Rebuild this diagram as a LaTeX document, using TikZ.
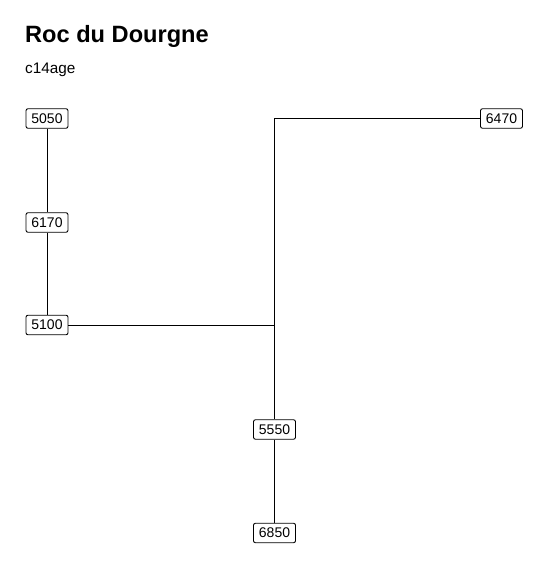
\documentclass[tikz,border=0pt]{standalone}
\usepackage{fontspec}
\setmainfont{Liberation Sans}
\begin{document}
\begin{tikzpicture}[x=1bp,y=-1bp,
  datebox/.style={draw=black, fill=white, line width=0.9bp, rounded corners=2bp,
    minimum width=42bp, minimum height=19.5bp, inner sep=0pt,
    font=\fontsize{14bp}{16bp}\selectfont},
  link/.style={draw=black, line width=0.9bp}]
\useasboundingbox (0,0) rectangle (547,568);
\node[anchor=base west, inner sep=0pt, font=\fontsize{23.6bp}{26bp}\selectfont\bfseries] (title) at (25,42.7) {Roc du Dourgne};
\node[anchor=base west, inner sep=0pt, font=\fontsize{15.3bp}{18bp}\selectfont] (sub) at (25,74) {c14age};
\coordinate (top) at (274.5,118.5);
\coordinate (junc) at (274.5,325);
\node[datebox] (n5050) at (47,118.5) {5050};
\node[datebox] (n6170) at (47,222.5) {6170};
\node[datebox] (n5100) at (47,325) {5100};
\node[datebox] (n6470) at (501.5,118.5) {6470};
\node[datebox] (n5550) at (274.5,429.5) {5550};
\node[datebox] (n6850) at (274.5,533) {6850};
\draw[link] (n5050.south) -- (n6170.north);
\draw[link] (n6170.south) -- (n5100.north);
\draw[link] (n5100.east) -- (junc);
\draw[link] (n6470.west) -- (top) -- (n5550.north);
\draw[link] (n5550.south) -- (n6850.north);
\end{tikzpicture}
\end{document}
